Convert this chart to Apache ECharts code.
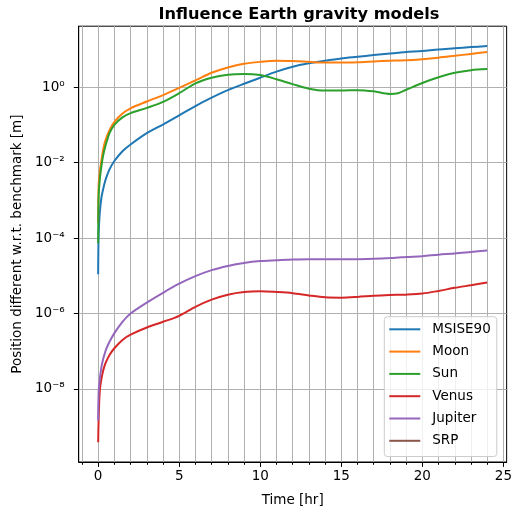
<!DOCTYPE html>
<html>
<head>
<meta charset="utf-8">
<script src="https://cdn.jsdelivr.net/npm/echarts@6/dist/echarts.min.js"></script>
<style>
  html, body { margin: 0; padding: 0; background: #ffffff; }
  #chart { width: 515px; height: 512px; }
</style>
</head>
<body>
<div id="chart"></div>
<script>
// Propagation time of each sample [hr]
const timeHr = [0, 0.03, 0.1, 0.2, 0.3, 0.4, 0.5, 0.7, 1, 1.5, 2, 3, 4, 5, 6, 7, 8, 9, 10,
                11, 12, 13, 14, 15, 16, 17, 18, 18.5, 19, 20, 21, 22, 23, 24];

// Position difference w.r.t. the benchmark orbit [m], one array per perturbation model
const msise90 = [1.10e-5, 1.26e-4, 4.68e-4, 1.17e-3, 1.91e-3, 2.88e-3, 3.98e-3, 6.61e-3, 1.10e-2,
                 2.00e-2, 3.02e-2, 6.03e-2, 0.102, 0.178, 0.316, 0.525, 0.832, 1.23, 1.78,
                 2.57, 3.47, 4.27, 5.01, 5.75, 6.38, 7.08, 7.76, 8.13, 8.51, 9.12, 10.0, 10.7, 11.5, 12.3];
const moon    = [2.51e-4, 2.51e-3, 5.62e-3, 1.12e-2, 2.09e-2, 3.31e-2, 4.47e-2, 7.24e-2, 0.120,
                 0.200, 0.275, 0.417, 0.617, 0.955, 1.51, 2.40, 3.31, 4.17, 4.68,
                 5.01, 4.90, 4.68, 4.47, 4.47, 4.57, 4.79, 5.01, 5.07, 5.13, 5.50, 6.03, 6.76, 7.59, 8.51];
const sun     = [7.24e-5, 1.26e-3, 3.55e-3, 7.94e-3, 1.48e-2, 2.29e-2, 3.31e-2, 6.03e-2, 0.100,
                 0.158, 0.204, 0.282, 0.407, 0.692, 1.26, 1.78, 2.14, 2.24, 2.09,
                 1.62, 1.20, 0.912, 0.813, 0.813, 0.832, 0.776, 0.661, 0.692, 0.851, 1.29, 1.82, 2.40, 2.82, 3.02];
const venus   = [3.89e-10, 1.58e-9, 8.91e-9, 1.82e-8, 2.95e-8, 4.17e-8, 5.37e-8, 7.94e-8, 1.20e-7,
                 2.00e-7, 2.75e-7, 4.27e-7, 6.03e-7, 8.71e-7, 1.51e-6, 2.34e-6, 3.16e-6, 3.72e-6, 3.89e-6,
                 3.72e-6, 3.47e-6, 3.02e-6, 2.69e-6, 2.63e-6, 2.75e-6, 2.95e-6, 3.09e-6, 3.13e-6, 3.16e-6,
                 3.39e-6, 3.98e-6, 4.79e-6, 5.62e-6, 6.61e-6];
const jupiter = [1.45e-9, 7.94e-9, 1.82e-8, 3.72e-8, 6.03e-8, 8.51e-8, 1.15e-7, 1.78e-7, 3.02e-7,
                 6.03e-7, 1.00e-6, 1.95e-6, 3.55e-6, 6.17e-6, 9.77e-6, 1.41e-5, 1.82e-5, 2.19e-5, 2.45e-5,
                 2.57e-5, 2.69e-5, 2.75e-5, 2.75e-5, 2.75e-5, 2.75e-5, 2.82e-5, 2.95e-5, 3.05e-5, 3.16e-5,
                 3.31e-5, 3.63e-5, 3.89e-5, 4.27e-5, 4.68e-5];
const srp     = []; // identical to the benchmark: nothing to draw on a log axis

// Axis ticks
const majorHourTicks = [0, 5, 10, 15, 20, 25];
const minorHourTicks = [-1, 0, 1, 2, 3, 4, 5, 6, 7, 8, 9, 10, 11, 12, 13, 14, 15, 16, 17, 18, 19,
                        20, 21, 22, 23, 24, 25];
const decadeTicks = [1e-8, 1e-6, 1e-4, 1e-2, 1e0];

const FONT = 'DejaVu Sans';
const FS = 13.5;
const COLORS = ['#1f77b4', '#ff7f0e', '#2ca02c', '#d62728', '#9467bd', '#8c564b'];

const SUP = { '-': '\u207B', '0': '\u2070', '1': '\u00B9', '2': '\u00B2', '3': '\u00B3',
              '4': '\u2074', '5': '\u2075', '6': '\u2076', '7': '\u2077', '8': '\u2078', '9': '\u2079' };
function powerLabel(v) {
  const e = Math.round(Math.log10(v));
  return '10' + String(e).split('').map(c => SUP[c]).join('');
}

function toPairs(values) {
  return values.map((v, i) => [timeHr[i], v]);
}

const seriesDefs = [
  ['MSISE90', msise90],
  ['Moon', moon],
  ['Sun', sun],
  ['Venus', venus],
  ['Jupiter', jupiter],
  ['SRP', srp]
];

const chart = echarts.init(document.getElementById('chart'), null, { renderer: 'canvas' });

chart.setOption({
  animation: false,
  color: COLORS,
  textStyle: { fontFamily: FONT, color: '#000' },
  title: {
    text: 'Influence Earth gravity models',
    left: 294, top: 2, textAlign: 'center',
    textStyle: { fontFamily: FONT, fontSize: 16.2, fontWeight: 'bold', color: '#000' }
  },
  grid: {
    left: 78.7, right: 5, top: 26.2, bottom: 48.8,
    show: true, borderColor: '#000', borderWidth: 1, backgroundColor: 'transparent',
    containLabel: false
  },
  legend: {
    orient: 'vertical',
    left: 384.3, top: 316.7,
    padding: [5.6, 6, 8.7, 5],
    itemWidth: 31, itemHeight: 2, itemGap: 8.3,
    icon: 'rect',
    backgroundColor: 'rgba(255,255,255,0.8)',
    borderColor: '#cccccc', borderWidth: 1, borderRadius: 3,
    textStyle: { fontFamily: FONT, fontSize: FS, color: '#000', lineHeight: 14, padding: [0, 0, 0, 7] },
    data: seriesDefs.map(d => d[0])
  },
  xAxis: [
    {
      type: 'value', min: -1.2, max: 25.2, position: 'bottom',
      name: 'Time [hr]', nameLocation: 'middle', nameGap: 31,
      nameTextStyle: { fontFamily: FONT, fontSize: FS, color: '#000' },
      axisLine: { onZero: false, lineStyle: { color: '#000', width: 1 } },
      axisTick: { show: true, length: 4.9, customValues: majorHourTicks, lineStyle: { color: '#000', width: 1 } },
      axisLabel: { customValues: majorHourTicks, margin: 7, fontFamily: FONT, fontSize: FS, color: '#000' },
      splitLine: { show: false }
    },
    {
      type: 'value', min: -1.2, max: 25.2, position: 'bottom',
      axisLine: { show: false, onZero: false },
      axisTick: { show: true, length: 2.8, customValues: minorHourTicks, lineStyle: { color: '#000', width: 1 } },
      axisLabel: { show: false },
      splitLine: { show: true, lineStyle: { color: '#b0b0b0', width: 1 } }
    }
  ],
  yAxis: {
    type: 'log', logBase: 10,
    min: Math.pow(10, -9.935), max: Math.pow(10, 1.615),
    name: 'Position different w.r.t. benchmark [m]', nameLocation: 'middle', nameGap: 54,
    nameTextStyle: { fontFamily: FONT, fontSize: FS, color: '#000' },
    axisLine: { show: true, onZero: false, lineStyle: { color: '#000', width: 1 } },
    axisTick: { show: true, length: 4.9, customValues: decadeTicks, lineStyle: { color: '#000', width: 1 } },
    axisLabel: { customValues: decadeTicks, margin: 14, fontFamily: FONT, fontSize: FS, color: '#000',
                 formatter: powerLabel },
    splitLine: { show: true, lineStyle: { color: '#b0b0b0', width: 1 } },
    minorTick: { show: false },
    minorSplitLine: { show: false }
  },
  series: seriesDefs.map(([name, values]) => ({
    name: name,
    type: 'line',
    xAxisIndex: 0,
    data: toPairs(values),
    showSymbol: false,
    symbol: 'none',
    smooth: 0.3,
    lineStyle: { width: 2 },
    emphasis: { disabled: true }
  }))
});
</script>
</body>
</html>
